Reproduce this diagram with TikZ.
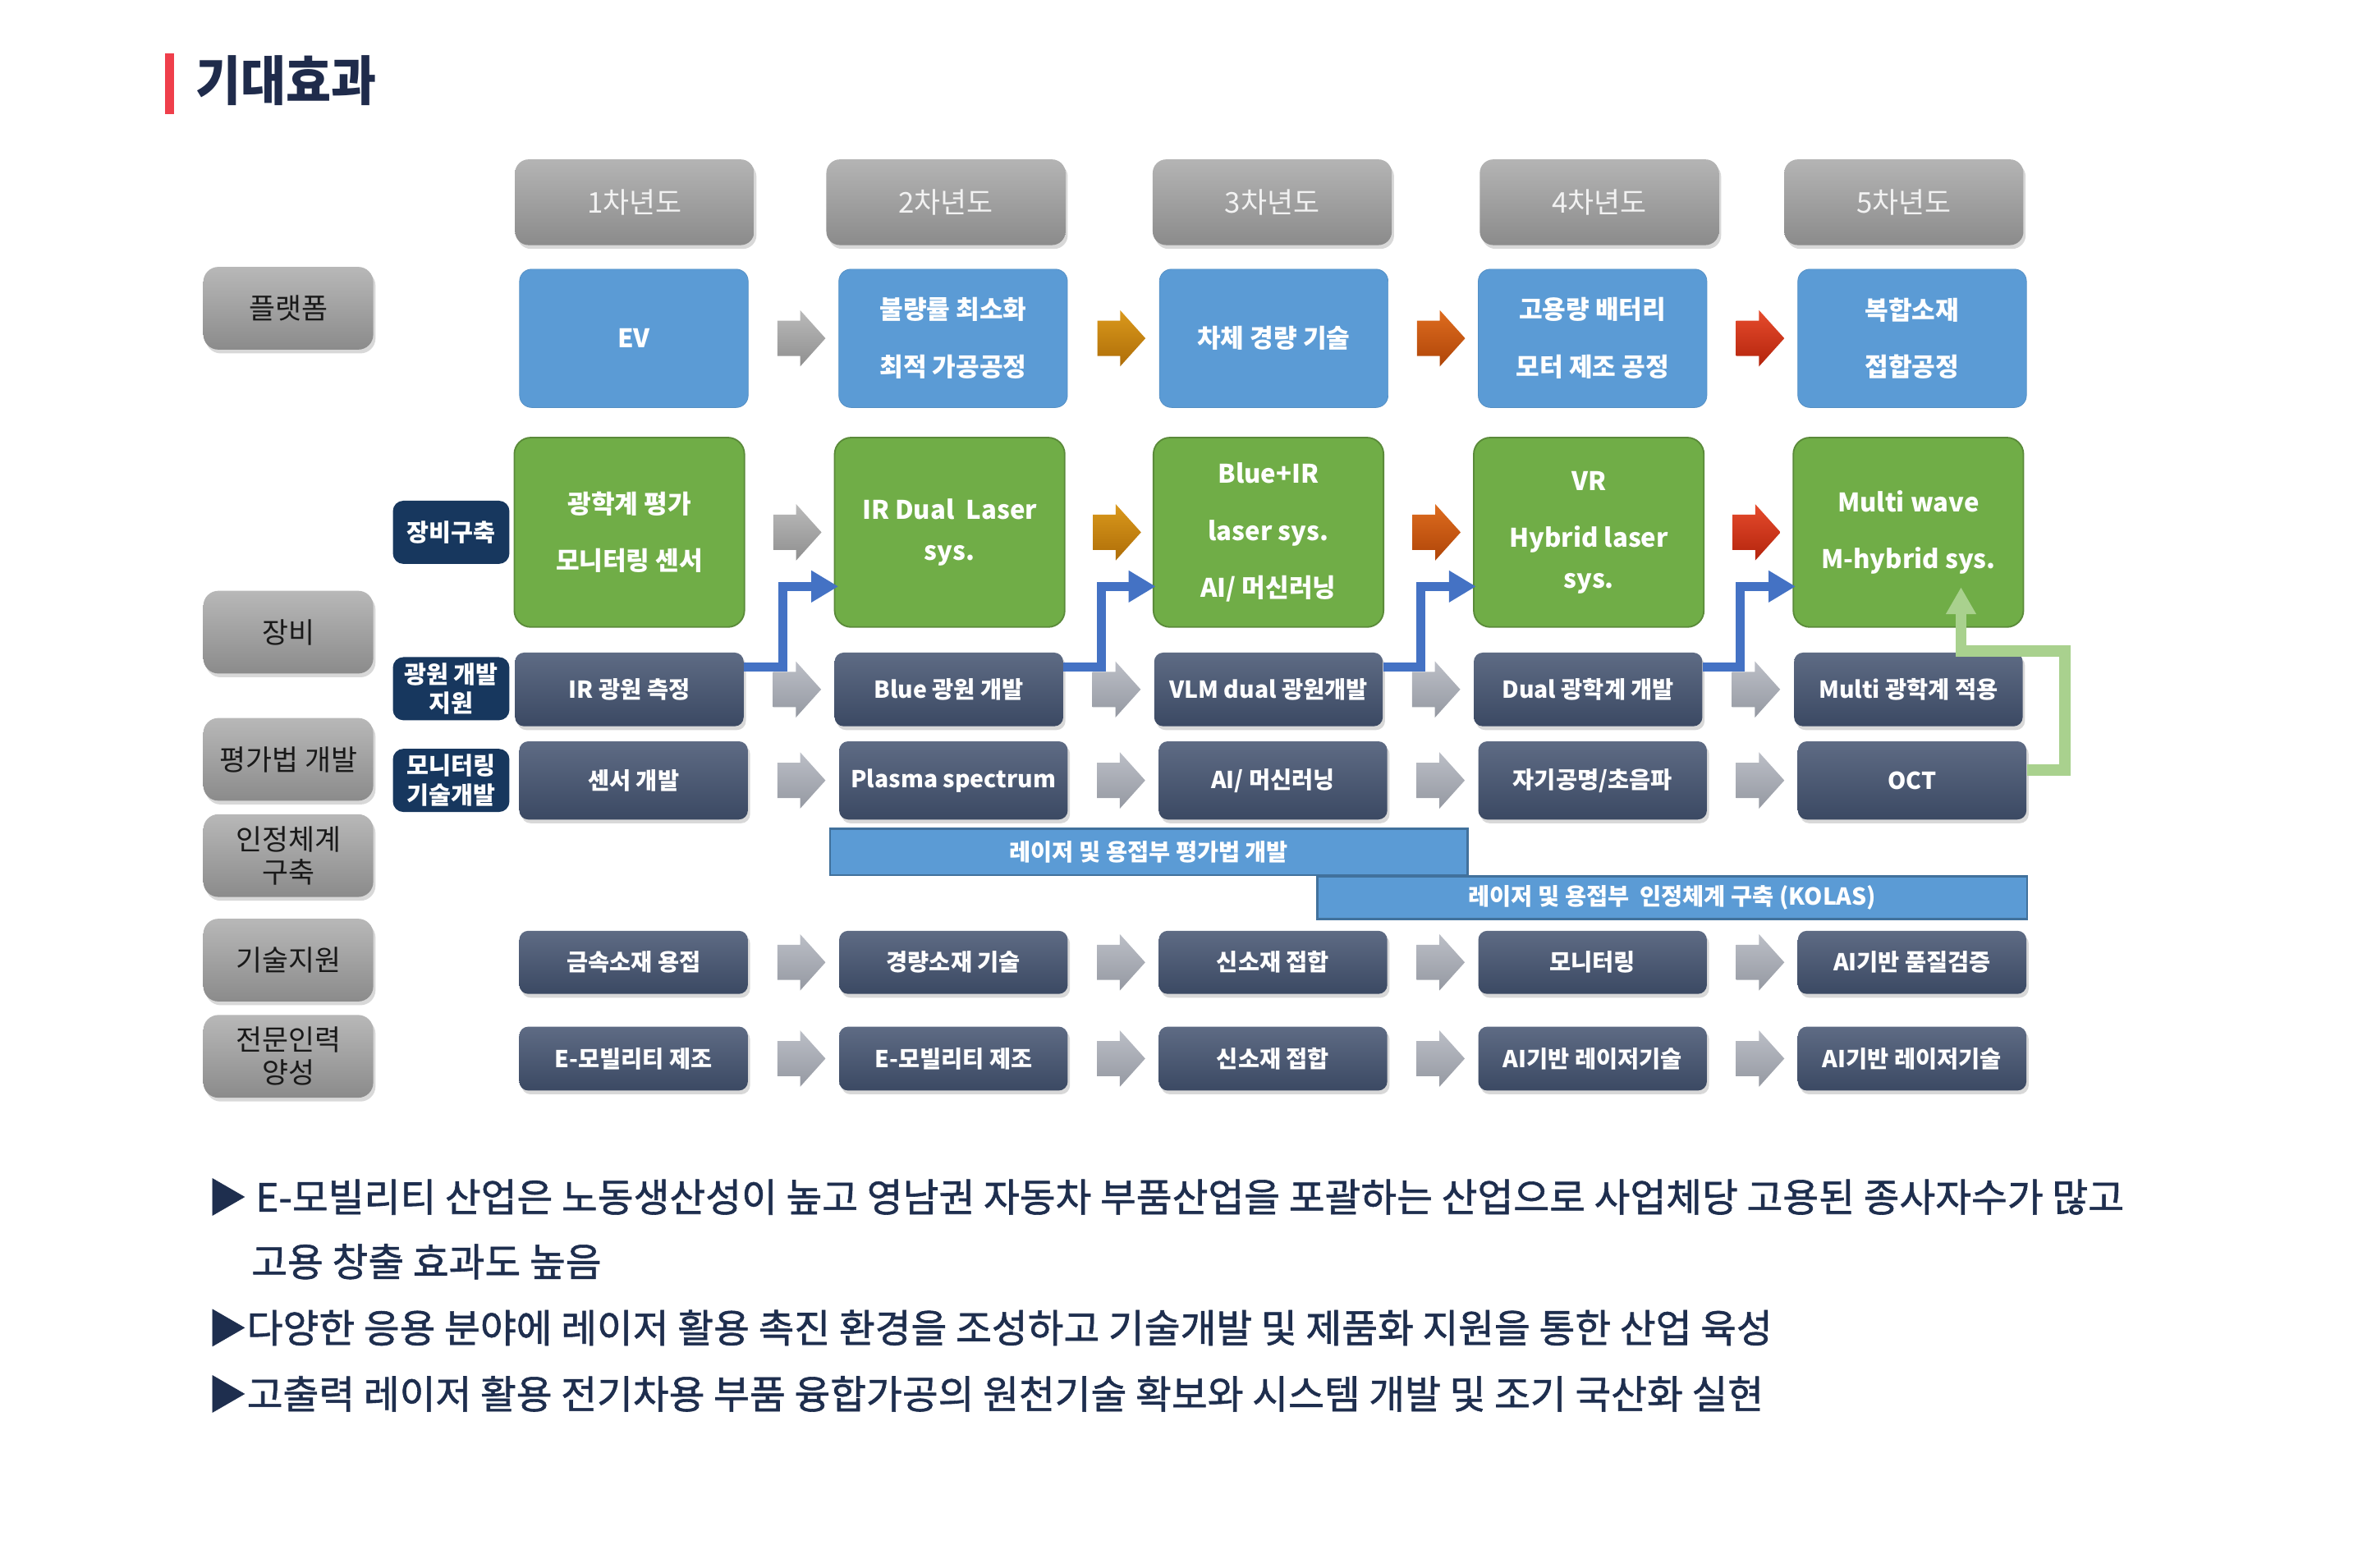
\documentclass[tikz,border=0pt]{standalone}
\usepackage{fontspec}
\setmainfont{Noto Sans CJK KR}
\newfontfamily\titlefont[FakeStretch=0.92]{Noto Sans CJK KR}
\newfontfamily\notefont[FakeBold=1.2]{Noto Sans CJK KR}
\usepackage{tikz}
\usetikzlibrary{arrows.meta}
\usetikzlibrary{calc}
\usetikzlibrary{shadows}
\usetikzlibrary{shapes.arrows}
\definecolor{titlenavy}{HTML}{1F2B4B}
\definecolor{titlered}{HTML}{EF3F4B}
\definecolor{notenavy}{HTML}{1E2E4E}
\definecolor{hdrtop}{HTML}{B4B4B4}
\definecolor{hdrbot}{HTML}{8B8B8B}
\definecolor{platblue}{HTML}{5B9BD5}
\definecolor{barline}{HTML}{41719C}
\definecolor{eqgreen}{HTML}{70AD47}
\definecolor{darktop}{HTML}{5E6B84}
\definecolor{darkbot}{HTML}{3B4963}
\definecolor{tagnavy}{HTML}{17375E}
\definecolor{connblue}{HTML}{4472C4}
\definecolor{conngreen}{HTML}{A9D18E}
\definecolor{graytop}{HTML}{BABABA}
\definecolor{graybot}{HTML}{8F8F8F}
\definecolor{paletop}{HTML}{BBBEC6}
\definecolor{palebot}{HTML}{9599A2}
\definecolor{goldtop}{HTML}{DA991C}
\definecolor{goldbot}{HTML}{AE6D08}
\definecolor{orgtop}{HTML}{DE6C1F}
\definecolor{orgbot}{HTML}{AF4508}
\definecolor{redtop}{HTML}{E64B2D}
\definecolor{redbot}{HTML}{B3240C}
\tikzset{softshadow/.style = {drop shadow={shadow xshift=1.5pt, shadow yshift=-2.5pt, opacity=.3}}}
\tikzset{yearbox/.style = {rounded corners=9pt, minimum width=159pt, minimum height=57pt, inner sep=0pt,
                           top color=hdrtop, bottom color=hdrbot, text=white!95!black,
                           font=\fontsize{19}{21}\selectfont, softshadow}}
\tikzset{sidebox/.style = {rounded corners=10pt, minimum width=113pt, minimum height=55pt, inner sep=0pt,
                           top color=hdrtop!95!white, bottom color=hdrbot, text=black!90, align=center,
                           font=\fontsize{19}{22}\selectfont, softshadow}}
\tikzset{tagbox/.style = {rounded corners=7pt, fill=tagnavy, text=white, minimum width=77.5pt,
                          minimum height=42pt, inner sep=0pt, align=center,
                          font=\bfseries\fontsize{16}{19.5}\selectfont}}
\tikzset{platbox/.style = {rounded corners=8pt, fill=platblue, draw=platblue!92!black, minimum width=152pt,
                           minimum height=92pt, inner sep=0pt, text=white, align=center,
                           font=\bfseries\fontsize{17}{38}\selectfont}}
\tikzset{eqbox/.style = {rounded corners=11pt, fill=eqgreen, draw=eqgreen!80!black, line width=1pt,
                         minimum width=153pt, minimum height=126pt, inner sep=0pt, text=white, align=center,
                         font=\bfseries\fontsize{17}{38}\selectfont}}
\tikzset{darkbox/.style = {rounded corners=6pt, top color=darktop, bottom color=darkbot, minimum width=152pt,
                           inner sep=0pt, text=white, font=\bfseries\fontsize{15.5}{18}\selectfont, softshadow}}
\tikzset{barbox/.style = {fill=platblue, draw=barline, line width=1.5pt, inner sep=0pt, text=white,
                          font=\bfseries\fontsize{15.5}{18}\selectfont}}
\tikzset{steparrow/.style = {single arrow, single arrow head extend=7pt, single arrow tip angle=96,
                             minimum height=32pt, inner xsep=0pt, inner ysep=11.5pt}}
\tikzset{arrgray/.style = {steparrow, top color=graytop, bottom color=graybot}}
\tikzset{arrpale/.style = {steparrow, top color=paletop, bottom color=palebot}}
\tikzset{arrgold/.style = {steparrow, top color=goldtop, bottom color=goldbot}}
\tikzset{arrorange/.style = {steparrow, top color=orgtop, bottom color=orgbot}}
\tikzset{arrred/.style = {steparrow, top color=redtop, bottom color=redbot}}
\tikzset{upconn/.style = {draw=connblue, line width=6pt, -{Triangle[length=18pt, width=20pt]}}}
\tikzset{backconn/.style = {draw=conngreen, line width=7.5pt, -{Triangle[length=18pt, width=19pt]}}}
\tikzset{note/.style = {anchor=west, inner sep=0pt, text=notenavy, font=\notefont\fontsize{26}{30}\selectfont}}

\begin{document}
\begin{tikzpicture}[x=1pt, y=-1pt]
    \useasboundingbox (0, 0) rectangle (1568, 1042.3);
    \fill [white] (0, 0) rectangle (1568, 1042.3);

    % title
    \fill [titlered] (110, 35.6) rectangle (116, 75.8);
    \node [anchor=west, inner sep=0pt, text=titlenavy, font=\titlefont\bfseries\fontsize{35.5}{40}\selectfont] (title) at (130, 53.6) {기대효과};

    % years
    \node [yearbox] (hdr1) at (422, 134.5) {1차년도};
    \node [yearbox] (hdr2) at (629, 134.5) {2차년도};
    \node [yearbox] (hdr3) at (846, 134.5) {3차년도};
    \node [yearbox] (hdr4) at (1063.5, 134.5) {4차년도};
    \node [yearbox] (hdr5) at (1266, 134.5) {5차년도};

    % left column
    \node [sidebox] (lpf) at (191.7, 205) {플랫폼};
    \node [sidebox] (leq) at (191.7, 420.4) {장비};
    \node [sidebox] (leval) at (191.7, 505) {평가법 개발};
    \node [sidebox] (lcert) at (191.7, 569) {인정체계\\구축};
    \node [sidebox] (lsup) at (191.7, 638.5) {기술지원};
    \node [sidebox] (lhr) at (191.7, 702.5) {전문인력\\양성};

    \node [tagbox] (teq) at (300, 354) {장비구축};
    \node [tagbox] (tls) at (300, 458) {광원 개발\\지원};
    \node [tagbox] (tmon) at (300, 519) {모니터링\\기술개발};

    % platform
    \node [platbox] (pf1) at (421.5, 225) {EV};
    \node [platbox] (pf2) at (633.8, 225) {불량률 최소화\\최적 가공공정};
    \node [platbox] (pf3) at (847, 225) {차체 경량 기술};
    \node [platbox] (pf4) at (1059, 225) {고용량 배터리\\모터 제조 공정};
    \node [platbox] (pf5) at (1271.5, 225) {복합소재\\접합공정};

    % equipment
    \node [eqbox] (eq1) at (418.5, 354) {광학계 평가\\모니터링 센서};
    \node [eqbox] (eq2) at (631.5, 354) {IR Dual\ \ Laser\\[-11pt]sys.};
    \node [eqbox] (eq3) at (843.5, 354) {Blue+IR\\laser sys.\\AI/ 머신러닝};
    \node [eqbox] (eq4) at (1056.5, 354) {VR\\Hybrid laser\\[-11pt]sys.};
    \node [eqbox] (eq5) at (1269, 354) {Multi wave\\M-hybrid sys.};

    \node [darkbox, minimum height=49pt] (ls1) at (418.5, 458.5) {IR 광원 측정};
    \node [darkbox, minimum height=49pt] (ls2) at (631, 458.5) {Blue 광원 개발};
    \node [darkbox, minimum height=49pt] (ls3) at (843.5, 458.5) {VLM dual 광원개발};
    \node [darkbox, minimum height=49pt] (ls4) at (1056, 458.5) {Dual 광학계 개발};
    \node [darkbox, minimum height=49pt] (ls5) at (1269, 458.5) {Multi 광학계 적용};

    \node [darkbox, minimum height=52pt] (mon1) at (421.3, 519) {센서 개발};
    \node [darkbox, minimum height=52pt] (mon2) at (634, 519) {Plasma spectrum};
    \node [darkbox, minimum height=52pt] (mon3) at (846.5, 519) {AI/ 머신러닝};
    \node [darkbox, minimum height=52pt] (mon4) at (1059, 519) {자기공명/초음파};
    \node [darkbox, minimum height=52pt] (mon5) at (1271.5, 519) {OCT};

    % evaluation and certification
    \node [barbox, minimum width=424pt, minimum height=31pt] (bar1) at (764, 566.5) {레이저 및 용접부 평가법 개발};
    \node [barbox, minimum width=472pt, minimum height=28pt] (bar2) at (1112, 597) {레이저 및 용접부\ \ 인정체계 구축 (KOLAS)};

    % support and training
    \node [darkbox, minimum height=42pt] (sup1) at (421.3, 640) {금속소재 용접};
    \node [darkbox, minimum height=42pt] (sup2) at (634, 640) {경량소재 기술};
    \node [darkbox, minimum height=42pt] (sup3) at (846.5, 640) {신소재 접합};
    \node [darkbox, minimum height=42pt] (sup4) at (1059, 640) {모니터링};
    \node [darkbox, minimum height=42pt] (sup5) at (1271.5, 640) {AI기반 품질검증};

    \node [darkbox, minimum height=42.5pt] (hr1) at (421.3, 704) {E-모빌리티 제조};
    \node [darkbox, minimum height=42.5pt] (hr2) at (634, 704) {E-모빌리티 제조};
    \node [darkbox, minimum height=42.5pt] (hr3) at (846.5, 704) {신소재 접합};
    \node [darkbox, minimum height=42.5pt] (hr4) at (1059, 704) {AI기반 레이저기술};
    \node [darkbox, minimum height=42.5pt] (hr5) at (1271.5, 704) {AI기반 레이저기술};

    % step arrows
    \foreach \r in {pf, eq}
      \foreach \a/\b/\c in {1/2/arrgray, 2/3/arrgold, 3/4/arrorange, 4/5/arrred}
        \node [\c] (\r arr\a) at ($(\r\a.east)!0.5!(\r\b.west)$) {};
    \foreach \r in {ls, mon, sup, hr}
      \foreach \a/\b in {1/2, 2/3, 3/4, 4/5}
        \node [arrpale] (\r arr\a) at ($(\r\a.east)!0.5!(\r\b.west)$) {};

    % light source feeds next system
    \draw [upconn] ([yshift=15pt]ls1.east) -- ++(26, 0) |- ([xshift=3pt, yshift=-36pt]eq2.west);
    \draw [upconn] ([yshift=15pt]ls2.east) -- ++(25, 0) |- ([xshift=2pt, yshift=-36pt]eq3.west);
    \draw [upconn] ([yshift=15pt]ls3.east) -- ++(25, 0) |- ([xshift=2pt, yshift=-36pt]eq4.west);
    \draw [upconn] ([yshift=15pt]ls4.east) -- ++(25, 0) |- ([xshift=2pt, yshift=-36pt]eq5.west);

    \coordinate (gbend) at (1373, 433);
    \draw [backconn] ([yshift=7pt]mon5.east) -| (gbend) -| ([xshift=35pt, yshift=27pt]eq5.south);

    % notes
    \node [note] (note1) at (138, 796) {▶ E-모빌리티 산업은 노동생산성이 높고 영남권 자동차 부품산업을 포괄하는 산업으로 사업체당 고용된 종사자수가 많고};
    \node [note] (note2) at (167, 839) {고용 창출 효과도 높음};
    \node [note] (note3) at (138, 883) {▶다양한 응용 분야에 레이저 활용 촉진 환경을 조성하고 기술개발 및 제품화 지원을 통한 산업 육성};
    \node [note] (note4) at (138, 927) {▶고출력 레이저 활용 전기차용 부품 융합가공의 원천기술 확보와 시스템 개발 및 조기 국산화 실현};
  \end{tikzpicture}
\end{document}
